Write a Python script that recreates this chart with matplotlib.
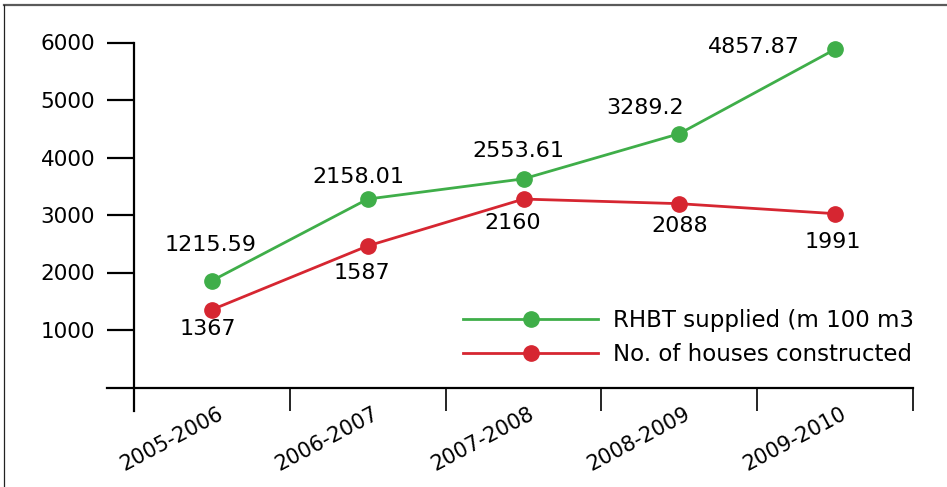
import matplotlib
matplotlib.use("Agg")
import matplotlib.pyplot as plt
from matplotlib.lines import Line2D
from matplotlib.transforms import ScaledTranslation

# ---- data ----
categories = ["2005-2006", "2006-2007", "2007-2008", "2008-2009", "2009-2010"]
rhbt_plot = [1857, 3277, 3629, 4414, 5882]        # plotted heights (as drawn)
houses_plot = [1353, 2462, 3277, 3197, 3023]
rhbt_labels = ["1215.59", "2158.01", "2553.61", "3289.2", "4857.87"]
houses_labels = ["1367", "1587", "2160", "2088", "1991"]
yticks = [1000, 2000, 3000, 4000, 5000, 6000]
series_names = ["RHBT supplied (m 100 m3", "No. of houses constructed"]

# label offsets (pixels, x right / y up)
rhbt_off = [(-1, 36), (-9, 22), (-5, 28), (-34, 26), (-81, 2)]
houses_off = [(-4, -19), (-6, -27), (-11, -24), (0, -22), (-2, -28)]

GREEN = "#3fae49"
RED = "#d62631"
FONT = "DejaVu Sans"
plt.rcParams["font.family"] = FONT

W, H, DPI = 947, 487, 100
fig = plt.figure(figsize=(W / DPI, H / DPI), dpi=DPI)
ax = fig.add_axes([107 / W, (H - 473.75) / H, 806 / W, 460 / H])
x = list(range(len(categories)))
ax.set_xlim(-0.6733, 4.5)
ax.set_ylim(-1500, 6500)

ax.plot(x, rhbt_plot, color=GREEN, lw=2.0, marker="o", ms=11, zorder=3)
ax.plot(x, houses_plot, color=RED, lw=2.0, marker="o", ms=11, zorder=3)

px = 0.72
for i in x:
    dx, dy = rhbt_off[i]
    ax.annotate(rhbt_labels[i], (i, rhbt_plot[i]), xytext=(dx * px, dy * px),
                textcoords="offset points", ha="center", va="center", fontsize=16)
    dx, dy = houses_off[i]
    ax.annotate(houses_labels[i], (i, houses_plot[i]), xytext=(dx * px, dy * px),
                textcoords="offset points", ha="center", va="center", fontsize=16)

# spines
for s in ("top", "right"):
    ax.spines[s].set_visible(False)
ax.spines["left"].set_position(("data", -0.5))
ax.spines["left"].set_bounds(-400, 6000)
ax.spines["left"].set_linewidth(1.6)
ax.spines["bottom"].set_position(("data", 0))
ax.spines["bottom"].set_bounds(-0.6733, 4.5)
ax.spines["bottom"].set_linewidth(1.6)

ax.set_yticks(yticks)
ax.set_yticklabels([str(v) for v in yticks])
ax.tick_params(axis="y", direction="out", length=19.4, width=1.6, pad=8.6, labelsize=15.5)

ax.set_xticks(x)
ax.set_xticklabels(categories)
ax.set_xticks([i - 0.5 for i in range(len(categories) + 1)], minor=True)
ax.tick_params(axis="x", which="major", length=0, pad=11.5, labelsize=15)
ax.tick_params(axis="x", which="minor", direction="out", length=16.6, width=1.2)
off = ScaledTranslation(5 / DPI, 0, fig.dpi_scale_trans)
for lab in ax.get_xticklabels():
    lab.set_rotation(28)
    lab.set_ha("right")
    lab.set_va("top")
    lab.set_rotation_mode("anchor")
    lab.set_transform(lab.get_transform() + off)

# legend
handles = [Line2D([], [], color=GREEN, lw=2.0, marker="o", ms=11),
           Line2D([], [], color=RED, lw=2.0, marker="o", ms=11)]
ax.legend(handles, series_names, loc="upper left", frameon=False,
          bbox_to_anchor=(463 / W, 1 - 309 / H), bbox_transform=fig.transFigure,
          borderpad=0, borderaxespad=0, fontsize=16.5, handlelength=5.9,
          handletextpad=0.65, labelspacing=0.5)

# figure frame
fig.add_artist(Line2D([4 / W, 1], [1 - 5 / H, 1 - 5 / H], color="#5a5a5a", lw=1.6,
                      transform=fig.transFigure))
fig.add_artist(Line2D([4 / W, 4 / W], [0, 1 - 5 / H], color="#222222", lw=0.9,
                      transform=fig.transFigure))

fig.savefig("out.png", dpi=DPI)
